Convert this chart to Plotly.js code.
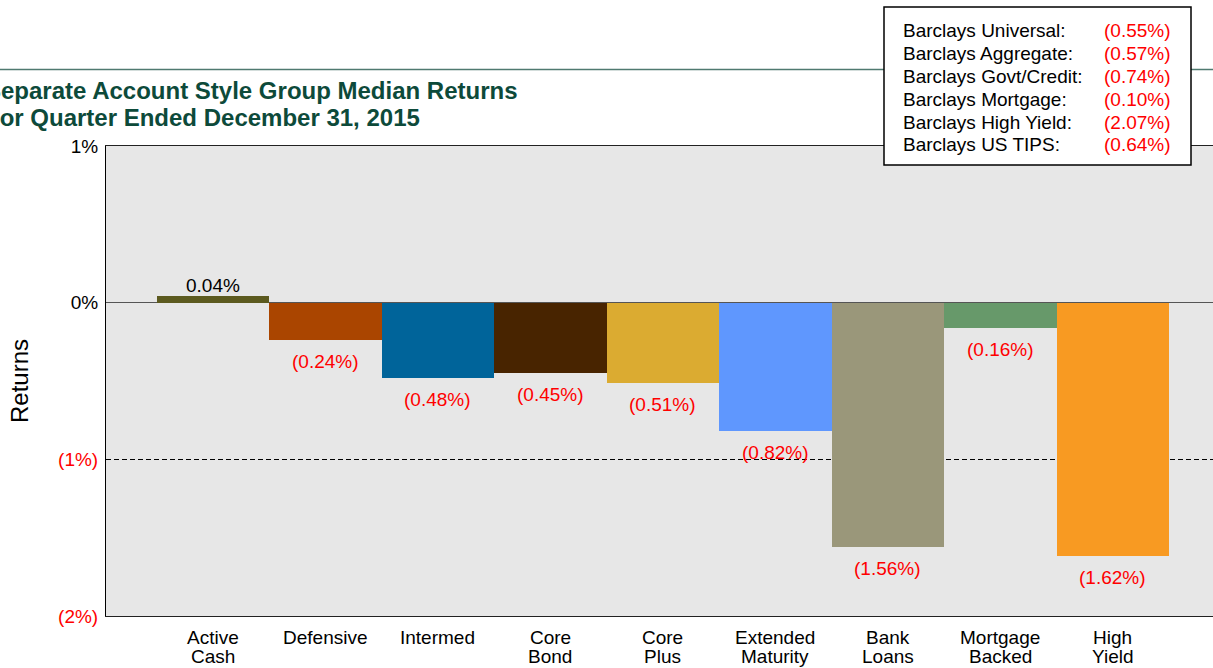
<!DOCTYPE html>
<html>
<head>
<meta charset="utf-8">
<script src="https://cdn.plot.ly/plotly-3.0.1.min.js"></script>
<style>html,body{margin:0;padding:0;background:#fff;}#chart{width:1213px;height:668px;}</style>
</head>
<body>
<div id="chart"></div>
<script>
// ---- data ----
const categories = ["Active Cash", "Defensive", "Intermed", "Core Bond", "Core Plus", "Extended Maturity", "Bank Loans", "Mortgage Backed", "High Yield"];
const tickLabels = [["Active", "Cash"], ["Defensive"], ["Intermed"], ["Core", "Bond"], ["Core", "Plus"], ["Extended", "Maturity"], ["Bank", "Loans"], ["Mortgage", "Backed"], ["High", "Yield"]];
const returns = [0.04, -0.24, -0.48, -0.45, -0.51, -0.82, -1.56, -0.16, -1.62];
const barColors = ["#5c5a1f", "#aa4500", "#00649a", "#482400", "#dbab31", "#5f97fe", "#9a977a", "#67996a", "#f89a22"];
const yTickVals = [1, 0, -1, -2];
const benchmarkNames = ["Barclays Universal:", "Barclays Aggregate:", "Barclays Govt/Credit:", "Barclays Mortgage:", "Barclays High Yield:", "Barclays US TIPS:"];
const benchmarkValues = [-0.55, -0.57, -0.74, -0.10, -2.07, -0.64];
const titleLines = ["Separate Account Style Group Median Returns", "For Quarter Ended December 31, 2015"];

// ---- helpers ----
const FONT = "Liberation Sans, Arial, sans-serif";
function fmt(v, d) {
  const s = Math.abs(v).toFixed(d) + "%";
  return v < 0 ? "(" + s + ")" : s;
}
function tickFmt(v) {
  return v < 0 ? '<span style="color:#ff0000">' + fmt(v, 0) + '</span>' : fmt(v, 0);
}

// pixel geometry helpers (layout only)
const W = 1213, H = 668;
const M = {l: 106, r: 0, t: 146, b: 52};
const PW = W - M.l - M.r, PH = H - M.t - M.b;
const px = x => (x - M.l) / PW;
const py = y => (H - M.b - y) / PH;

const trace = {
  type: "bar",
  x: categories,
  y: returns,
  marker: {color: barColors, line: {width: 0}},
  width: 1,
  hoverinfo: "x+y",
  showlegend: false
};

const annotations = [];

// data labels
categories.forEach((c, i) => {
  const v = returns[i];
  annotations.push({
    x: c, y: v, xref: "x", yref: "y",
    text: fmt(v, 2), showarrow: false,
    yanchor: v < 0 ? "top" : "bottom",
    yshift: v < 0 ? -9 : -2,
    font: {family: FONT, size: 19, color: v < 0 ? "#ff0000" : "#000000"}
  });
});

// category labels (two tight lines)
categories.forEach((c, i) => {
  tickLabels[i].forEach((t, j) => {
    annotations.push({
      x: c, y: 0, xref: "x", yref: "paper",
      text: t, showarrow: false, yanchor: "middle",
      yshift: -21 - 19 * j,
      font: {family: FONT, size: 19, color: "#000"}
    });
  });
});

// title lines
titleLines.forEach((t, j) => {
  annotations.push({
    x: px(-17), y: py(90 + 27 * j), xref: "paper", yref: "paper",
    xanchor: "left", yanchor: "middle", text: "<b>" + t + "</b>", showarrow: false,
    font: {family: FONT, size: 24, color: "#0d4a3a"}
  });
});

// benchmark box text
benchmarkNames.forEach((n, i) => {
  const yc = py(31 + 22.8 * i);
  annotations.push({
    x: px(901), y: yc, xref: "paper", yref: "paper", xanchor: "left", yanchor: "middle",
    text: n, showarrow: false, font: {family: FONT, size: 19, color: "#000"}
  });
  annotations.push({
    x: px(1102), y: yc, xref: "paper", yref: "paper", xanchor: "left", yanchor: "middle",
    text: fmt(benchmarkValues[i], 2), showarrow: false, font: {family: FONT, size: 19, color: "#ff0000"}
  });
});

const shapes = [
  {type: "line", xref: "paper", yref: "paper", x0: px(0), x1: px(W), y0: py(69.5), y1: py(69.5),
   line: {color: "#4f7a70", width: 1.5}},
  {type: "rect", xref: "paper", yref: "paper", x0: px(884), x1: px(1191), y0: py(165), y1: py(7),
   line: {color: "#000", width: 1.5}, fillcolor: "#ffffff", layer: "above"}
];

const layout = {
  width: W, height: H,
  margin: M,
  paper_bgcolor: "#ffffff",
  plot_bgcolor: "#e7e7e7",
  bargap: 0,
  font: {family: FONT, size: 19, color: "#000"},
  xaxis: {
    type: "category", range: [-0.951, 8.889],
    showticklabels: false, ticks: "",
    showline: true, linecolor: "#222", linewidth: 1, mirror: true,
    showgrid: false, zeroline: false, fixedrange: true
  },
  yaxis: {
    range: [-2, 1], tickvals: yTickVals, ticktext: yTickVals.map(tickFmt),
    ticks: "", ticklabelstandoff: 3,
    tickfont: {family: FONT, size: 19, color: "#000"},
    showline: true, linecolor: "#000", linewidth: 1, mirror: false,
    showgrid: true, gridcolor: "#000", gridwidth: 1, griddash: "5px,3px",
    zeroline: true, zerolinecolor: "#555", zerolinewidth: 1,
    title: {text: "Returns", font: {family: FONT, size: 24, color: "#000"}, standoff: 22},
    fixedrange: true
  },
  annotations: annotations,
  shapes: shapes
};

Plotly.newPlot("chart", [trace], layout, {displayModeBar: false, staticPlot: true});
</script>
</body>
</html>
